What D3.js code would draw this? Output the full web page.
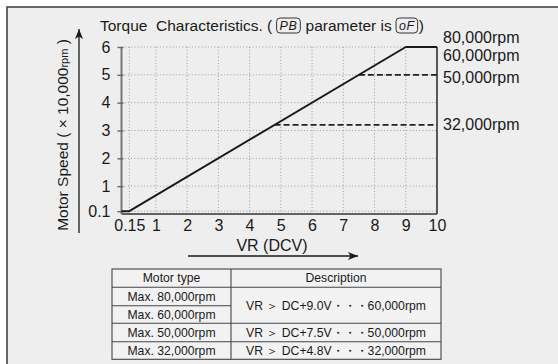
<!DOCTYPE html>
<html>
<head>
<meta charset="utf-8">
<script src="https://cdn.jsdelivr.net/npm/d3@7/dist/d3.min.js"></script>
<style>
  html, body { margin: 0; padding: 0; background: #fff; }
  svg { display: block; }
  text { font-family: "Liberation Sans", Arial, Helvetica, sans-serif; fill: #1a1a1a; }
</style>
</head>
<body>
<svg id="chart" width="558" height="364"></svg>
<script>
// Speed curve: VR voltage (DCV) against motor speed (x10,000 rpm)
const curveVR    = [-0.1, 0.15, 9, 10];
const curveSpeed = [0.1, 0.1, 6, 6];

// Speed limits for the slower motor types (dashed)
const limitVR    = [7.5, 4.8];
const limitSpeed = [5, 3.2];

// Axis ticks
const xTicks      = [0.15, 1, 2, 3, 4, 5, 6, 7, 8, 9, 10];
const xTickLabels = ["0.15", "1", "2", "3", "4", "5", "6", "7", "8", "9", "10"];
const yTicks      = [0.1, 1, 2, 3, 4, 5, 6];
const yTickLabels = ["0.1", "1", "2", "3", "4", "5", "6"];
const xGrid       = [0.15, 1, 2, 3, 4, 5, 6, 7, 8, 9];

// Right-hand speed labels and the speed each one sits by
const sideLabels      = ["80,000rpm", "60,000rpm", "50,000rpm", "32,000rpm"];
const sideLabelSpeeds = [6, 6, 5, 3.2];

// Table content
const tableHeader = ["Motor type", "Description"];
const motorTypes  = ["Max. 80,000rpm", "Max. 60,000rpm", "Max. 50,000rpm", "Max. 32,000rpm"];
const descriptions = ["VR ＞ DC+9.0V・・・60,000rpm", "VR ＞ DC+7.5V・・・50,000rpm", "VR ＞ DC+4.8V・・・32,000rpm"];
const descriptionRows = [[0, 1], [2], [3]];

const svg = d3.select("#chart");

// panel background with its frame
svg.append("rect").attr("x", 7).attr("y", 7).attr("width", 560).attr("height", 370)
  .attr("fill", "#eeeeee").attr("stroke", "#444").attr("stroke-width", 1.6);

const x = d3.scaleLinear().domain([-0.1, 10]).range([121.5, 437]);
const y = d3.scaleLinear().domain([0, 6]).range([214, 47]);

// dotted grid
const grid = svg.append("g").attr("stroke", "#9a9a9a").attr("stroke-width", 1)
  .attr("stroke-dasharray", "1,2.2").attr("fill", "none");
grid.selectAll("line.h").data(yTicks).join("line").attr("class", "h")
  .attr("x1", x(-0.1)).attr("x2", d => d === 6 ? x(9) : x(10))
  .attr("y1", d => y(d)).attr("y2", d => y(d));
grid.selectAll("line.v").data(xGrid).join("line").attr("class", "v")
  .attr("x1", d => x(d)).attr("x2", d => x(d))
  .attr("y1", y(6)).attr("y2", y(0));

// x axis (bottom) and right border
svg.append("line").attr("x1", x(-0.1)).attr("x2", x(10)).attr("y1", y(0)).attr("y2", y(0))
  .attr("stroke", "#333").attr("stroke-width", 1.6);
svg.append("line").attr("x1", x(10)).attr("x2", x(10)).attr("y1", y(6)).attr("y2", y(0))
  .attr("stroke", "#333").attr("stroke-width", 1.6);

// y axis with ticks
const yAxis = d3.axisLeft(y).tickValues(yTicks).tickFormat((d, i) => yTickLabels[i])
  .tickSizeInner(4).tickSizeOuter(0).tickPadding(7);
const gy = svg.append("g").attr("transform", `translate(${x(-0.1)},0)`).call(yAxis);
gy.select(".domain").attr("stroke", "#777").attr("stroke-width", 2)
  .attr("d", `M0,${y(6)}V${y(0)}`);
gy.selectAll(".tick line").attr("stroke", "#666").attr("stroke-width", 1.4).attr("x2", -4).attr("x1", 2);
gy.selectAll(".tick text").attr("font-size", 16).attr("fill", "#1a1a1a")
  .attr("font-family", "Liberation Sans, Arial, sans-serif");

// x axis labels
const xAxis = d3.axisBottom(x).tickValues(xTicks).tickFormat((d, i) => xTickLabels[i])
  .tickSize(0).tickPadding(6);
const gx = svg.append("g").attr("transform", `translate(0,${y(0)})`).call(xAxis);
gx.select(".domain").remove();
gx.selectAll(".tick text").attr("font-size", 16).attr("fill", "#1a1a1a")
  .attr("font-family", "Liberation Sans, Arial, sans-serif");

// dashed limit lines
svg.selectAll("line.limit").data(limitVR).join("line").attr("class", "limit")
  .attr("x1", d => x(d)).attr("x2", x(10))
  .attr("y1", (d, i) => y(limitSpeed[i])).attr("y2", (d, i) => y(limitSpeed[i]))
  .attr("stroke", "#222").attr("stroke-width", 1.8).attr("stroke-dasharray", "6,3");

// speed curve
const line = d3.line().x(d => x(d[0])).y(d => y(d[1]));
svg.append("path").datum(curveVR.map((v, i) => [v, curveSpeed[i]]))
  .attr("d", line).attr("fill", "none").attr("stroke", "#1a1a1a")
  .attr("stroke-width", 2).attr("stroke-linejoin", "round");

// side labels
const sideOffset = [-10, 8, 3, 0];
svg.selectAll("text.side").data(sideLabels).join("text").attr("class", "side")
  .attr("x", 443).attr("y", (d, i) => y(sideLabelSpeeds[i]) + sideOffset[i] + 5.5)
  .attr("font-size", 16).text(d => d);

// title with boxed parameter codes
const titleParts = [
  { t: "Torque  Characteristics. ( ", box: false },
  { t: "PB", box: true },
  { t: " parameter is ", box: false },
  { t: "oF", box: true },
  { t: ")", box: false }
];
let tx = 100;
const ty = 31;
titleParts.forEach(p => {
  if (p.box) {
    const t = svg.append("text").attr("x", tx + 3).attr("y", ty - 1)
      .attr("font-size", 12.5).attr("font-style", "italic").attr("letter-spacing", 0.5)
      .style("white-space", "pre").text(p.t);
    const w = t.node().getComputedTextLength();
    svg.append("rect").attr("x", tx).attr("y", ty - 13).attr("width", w + 6).attr("height", 15)
      .attr("rx", 3.5).attr("fill", "none").attr("stroke", "#333").attr("stroke-width", 1);
    tx += w + 7;
  } else {
    const t = svg.append("text").attr("x", tx).attr("y", ty)
      .attr("font-size", 15.5).style("white-space", "pre").text(p.t);
    tx += t.node().getComputedTextLength();
  }
});

// y axis title, rotated
const yTitle = svg.append("text").attr("transform", "translate(68,135) rotate(-90)")
  .attr("text-anchor", "middle").attr("font-size", 15.5).style("white-space", "pre");
yTitle.append("tspan").text("Motor Speed ( × 10,000");
yTitle.append("tspan").attr("font-size", 11).text("rpm");
yTitle.append("tspan").text(" )");

// x axis title
svg.append("text").attr("x", 272).attr("y", 251).attr("text-anchor", "middle")
  .attr("font-size", 16).text("VR (DCV)");

// direction arrows
const defs = svg.append("defs");
defs.append("marker").attr("id", "arrow").attr("viewBox", "0 0 10 8")
  .attr("refX", 10).attr("refY", 4).attr("markerWidth", 10).attr("markerHeight", 8)
  .attr("markerUnits", "userSpaceOnUse").attr("orient", "auto")
  .append("path").attr("d", "M0,0L10,4L0,8L2.5,4Z").attr("fill", "#1a1a1a");
svg.append("line").attr("x1", 79).attr("x2", 79).attr("y1", 233).attr("y2", 29)
  .attr("stroke", "#1a1a1a").attr("stroke-width", 1.3).attr("marker-end", "url(#arrow)");
svg.append("line").attr("x1", 188).attr("x2", 358).attr("y1", 256).attr("y2", 256)
  .attr("stroke", "#1a1a1a").attr("stroke-width", 1.3).attr("marker-end", "url(#arrow)");

// table
const tLeft = 112, tMid = 231, tRight = 441;
const rowTops = [269, 287.3, 305.7, 323.3, 341.7, 359.3];
const tbl = svg.append("g");
const tstroke = "#444";
tbl.append("rect").attr("x", tLeft).attr("y", rowTops[0]).attr("width", tRight - tLeft)
  .attr("height", rowTops[5] - rowTops[0]).attr("fill", "#f2f2f2").attr("stroke", tstroke).attr("stroke-width", 1.1);
tbl.append("line").attr("x1", tMid).attr("x2", tMid).attr("y1", rowTops[0]).attr("y2", rowTops[5])
  .attr("stroke", tstroke).attr("stroke-width", 1.1);
[1, 3, 4].forEach(r => tbl.append("line").attr("x1", tLeft).attr("x2", tRight)
  .attr("y1", rowTops[r]).attr("y2", rowTops[r]).attr("stroke", tstroke).attr("stroke-width", 1.1));
tbl.append("line").attr("x1", tLeft).attr("x2", tMid).attr("y1", rowTops[2]).attr("y2", rowTops[2])
  .attr("stroke", tstroke).attr("stroke-width", 1.1);

const cell = (cx, cy, s) => tbl.append("text").attr("x", cx).attr("y", cy + 4.3)
  .attr("text-anchor", "middle").attr("font-size", 12.2).text(s);
cell((tLeft + tMid) / 2, (rowTops[0] + rowTops[1]) / 2, tableHeader[0]);
cell((tMid + tRight) / 2, (rowTops[0] + rowTops[1]) / 2, tableHeader[1]);
motorTypes.forEach((m, i) => cell((tLeft + tMid) / 2, (rowTops[i + 1] + rowTops[i + 2]) / 2, m));
descriptions.forEach((s, i) => {
  const rows = descriptionRows[i];
  const top = rowTops[rows[0] + 1], bot = rowTops[rows[rows.length - 1] + 2];
  cell((tMid + tRight) / 2, (top + bot) / 2, s);
});
</script>
</body>
</html>
